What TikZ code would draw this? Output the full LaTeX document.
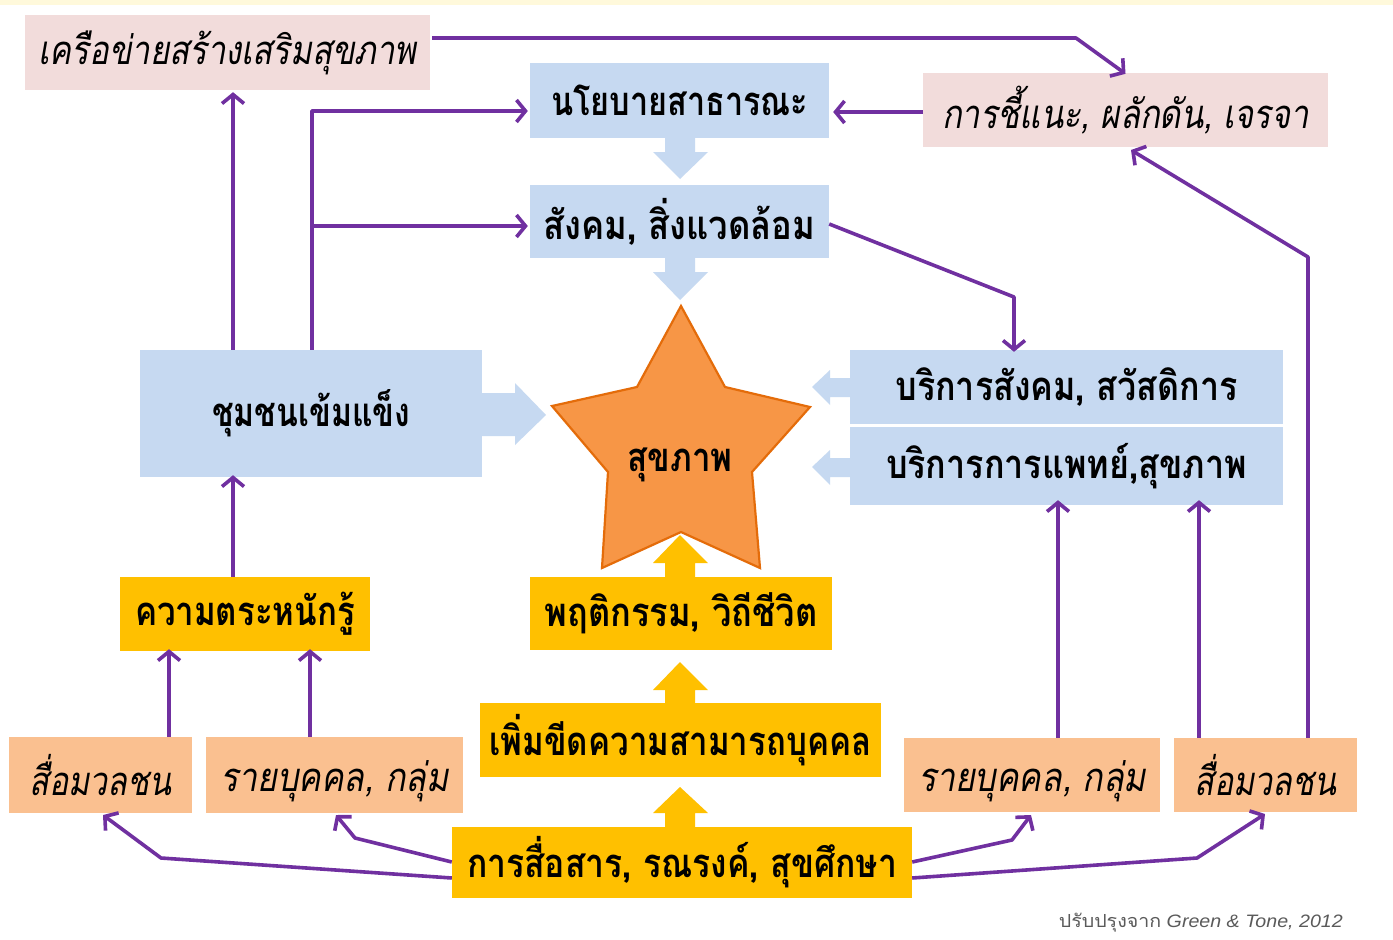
\documentclass[tikz,border=0pt]{standalone}
\usepackage{fontspec}
\setmainfont{Liberation Sans}
\newfontfamily\thai[Script=Thai,BoldFont={Loma Bold},ItalicFont={Loma Oblique},BoldItalicFont={Loma Bold Oblique}]{Loma}
\usetikzlibrary{arrows.meta}
\definecolor{cblue}{RGB}{198,217,241}
\definecolor{cpink}{RGB}{242,220,219}
\definecolor{cpeach}{RGB}{250,192,144}
\definecolor{cyel}{RGB}{255,192,0}
\definecolor{corange}{RGB}{247,150,70}
\definecolor{cordark}{RGB}{228,108,10}
\definecolor{cpurple}{RGB}{112,48,160}
\definecolor{cstrip}{RGB}{255,249,219}
\definecolor{ccap}{RGB}{90,90,90}
\newcommand\tb[2]{\resizebox{#1pt}{\height}{\thai\bfseries #2}}
\newcommand\ti[2]{\resizebox{#1pt}{\height}{\thai\itshape #2}}
\tikzset{
  bx/.style 2 args={rectangle, inner sep=0pt, minimum width=#1pt, minimum height=#2pt, font=\fontsize{40}{46}\selectfont},
  bluebox/.style 2 args={bx={#1}{#2}, fill=cblue},
  pinkbox/.style 2 args={bx={#1}{#2}, fill=cpink},
  peachbox/.style 2 args={bx={#1}{#2}, fill=cpeach},
  yelbox/.style 2 args={bx={#1}{#2}, fill=cyel},
  lowlabel/.style={font=\fontsize{40}{46}\selectfont, inner sep=0pt, yshift=-6pt},
  arr/.style={draw=cpurple, line width=3.6pt, line join=round, -{Straight Barb[length=9pt,width=22pt]}},
  blockblue/.style={fill=cblue},
  blockyel/.style={fill=cyel},
}
\begin{document}
\begin{tikzpicture}[x=1pt,y=-1pt]
\useasboundingbox (0,0) rectangle (1393,940);
\fill[white] (0,0) rectangle (1393,940);
\fill[cstrip] (0,0) rectangle (1393,5);

% boxes
\node[pinkbox={405}{75}] (net) at (227.5,52.5) {\ti{378}{เครือข่ายสร้างเสริมสุขภาพ}};
\node[pinkbox={405}{74}] (adv) at (1125.5,110) {\ti{367}{การชี้แนะ, ผลักดัน, เจรจา}};
\node[bluebox={299}{75}] (pol) at (679.5,100.5) {\tb{257}{นโยบายสาธารณะ}};
\node[bluebox={299}{73}] (soc) at (679.5,221.5) {\tb{272}{สังคม, สิ่งแวดล้อม}};
\node[bluebox={342}{127}] (com) at (311,413.5) {\tb{198}{ชุมชนเข้มแข็ง}};
\node[bluebox={433}{74}] (ss) at (1066.5,387) {\tb{342}{บริการสังคม, สวัสดิการ}};
\node[bluebox={433}{78}] (med) at (1066.5,466) {\tb{361}{บริการการแพทย์,สุขภาพ}};
\node[yelbox={250}{74}] (aw) at (245,614) {\tb{220}{ความตระหนักรู้}};
\node[yelbox={302}{73}] (beh) at (681,613.5) {\tb{273}{พฤติกรรม, วิถีชีวิต}};
\node[yelbox={401}{74}] (cap) at (680.5,740) {\tb{382}{เพิ่มขีดความสามารถบุคคล}};
\node[yelbox={460}{71}] (cc) at (682,862.5) {\tb{430}{การสื่อสาร, รณรงค์, สุขศึกษา}};
\node[peachbox={183}{76}] (m1) at (100.5,775) {\ti{142}{สื่อมวลชน}};
\node[peachbox={257}{76}, label={[lowlabel]center:{\ti{228}{รายบุคคล, กลุ่ม}}}] (i1) at (334.5,775) {};
\node[peachbox={256}{74}, label={[lowlabel]center:{\ti{228}{รายบุคคล, กลุ่ม}}}] (i2) at (1032,775) {};
\node[peachbox={183}{74}] (m2) at (1265.5,775) {\ti{142}{สื่อมวลชน}};

% star
\filldraw[fill=corange, draw=cordark, line width=2.2pt, line join=miter]
  (681,306) -- (725,387) -- (810,407) -- (752,472) -- (760,568) -- (681,532)
  -- (602,568) -- (608,472) -- (552,406) -- (637,387) -- cycle;
\node[font=\fontsize{40}{46}\selectfont, inner sep=0pt] (star) at (680,465) {\tb{105}{สุขภาพ}};

% block arrows
\fill[blockblue] (665,137) -- (695,137) -- (695,152) -- (708,152) -- (680,179) -- (653,152) -- (665,152) -- cycle;
\fill[blockblue] (665,258) -- (695,258) -- (695,272) -- (708,272) -- (680,300) -- (653,272) -- (665,272) -- cycle;
\fill[blockblue] (482,393) -- (515,393) -- (515,383) -- (546,415) -- (515,445) -- (515,436) -- (482,436) -- cycle;
\fill[blockblue] (850,378) -- (830,378) -- (830,370) -- (812,387) -- (830,405) -- (830,397) -- (850,397) -- cycle;
\fill[blockblue] (850,458) -- (830,458) -- (830,450) -- (812,467) -- (830,485) -- (830,477) -- (850,477) -- cycle;
\fill[blockyel] (665,577) -- (665,563) -- (653,563) -- (680,535) -- (708,563) -- (695,563) -- (695,577) -- cycle;
\fill[blockyel] (665,703) -- (665,690) -- (653,690) -- (680,662) -- (708,690) -- (695,690) -- (695,703) -- cycle;
\fill[blockyel] (665,827) -- (665,813) -- (653,813) -- (680,787) -- (708,813) -- (695,813) -- (695,827) -- cycle;

% helper coordinates
\coordinate (xa) at (233,0);
\coordinate (xb) at (312,0);
\coordinate (xc) at (169,0);
\coordinate (xd) at (310,0);
\coordinate (xe) at (1058,0);
\coordinate (xf) at (1199,0);
\coordinate (xg) at (1308,0);
\coordinate (xh) at (1014,0);
\coordinate (k1) at (312,111);
\coordinate (k2) at (312,226);
\coordinate (t1) at (432,38);
\coordinate (t2) at (1076,38);
\coordinate (s1) at (1014,297);
\coordinate (r1) at (1308,257);
\coordinate (r2) at (1131,150);
\coordinate (b1) at (161,858);
\coordinate (b2) at (355,838);
\coordinate (b3) at (1012,840);
\coordinate (b4) at (1197,858);
\coordinate (e1) at (103,815);
\coordinate (e2) at (336,815);
\coordinate (e3) at (1031,815);
\coordinate (e4) at (1265,814);
\coordinate (y1) at (0,878);
\coordinate (y2) at (0,862);

% connectors
\draw[arr] (com.north -| xa) -- ([yshift=-2pt]net.south -| xa);
\draw[arr] (com.north -| xb) |- ([xshift=-2pt]k1 -| pol.west);
\draw[arr] (k2) -- ([xshift=-2pt]k2 -| soc.west);
\draw[arr] (adv.west |- 0,112) -- ([xshift=4pt]pol.east |- 0,112);
\draw[arr] (t1) -- (t2) -- ([yshift=-1pt]adv.north);
\draw[arr] (soc.east |- 0,224) -- (s1) -- ([yshift=-2pt]ss.north -| xh);
\draw[arr] (m2.north -| xg) -- (r1) -- (r2);
\draw[arr] (i2.north -| xe) -- ([yshift=5pt]med.south -| xe);
\draw[arr] (m2.north -| xf) -- ([yshift=5pt]med.south -| xf);
\draw[arr] (aw.north -| xa) -- ([yshift=2pt]com.south -| xa);
\draw[arr] (m1.north -| xc) -- ([yshift=2pt]aw.south -| xc);
\draw[arr] (i1.north -| xd) -- ([yshift=2pt]aw.south -| xd);
\draw[arr] (cc.west |- y1) -- (b1) -- (e1);
\draw[arr] (cc.west |- y2) -- (b2) -- (e2);
\draw[arr] (cc.east |- y2) -- (b3) -- (e3);
\draw[arr] (cc.east |- y1) -- (b4) -- (e4);

% caption
\node[anchor=east, inner sep=0pt, text=ccap, font=\fontsize{18}{20}\selectfont] (cap2) at (1343,923)
  {\resizebox{284pt}{\height}{{\thai ปรับปรุงจาก} \itshape Green \& Tone, 2012}};
\end{tikzpicture}
\end{document}
